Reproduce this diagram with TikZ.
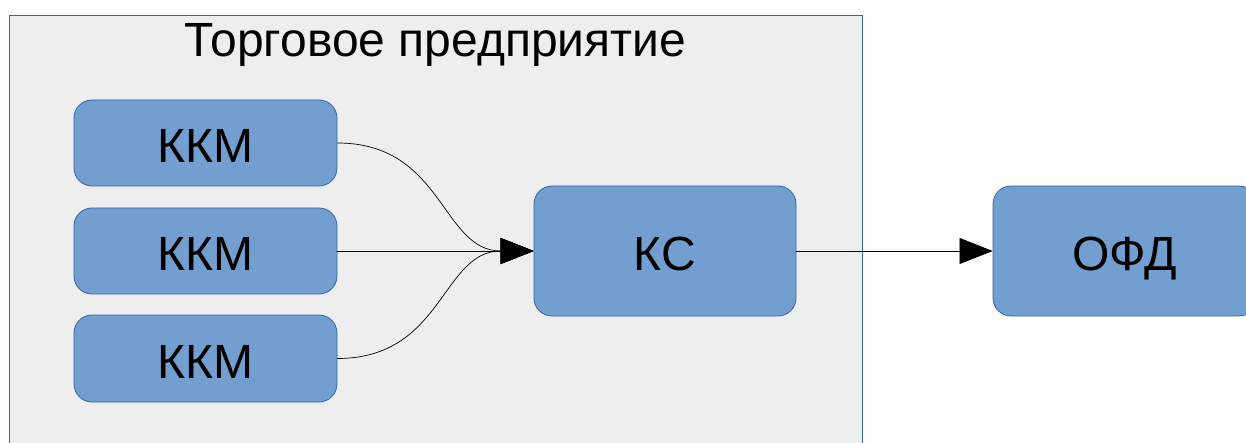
\documentclass[tikz,border=0pt]{standalone}
\usepackage{fontspec}
\setmainfont{Liberation Sans}
\usetikzlibrary{arrows.meta}
\definecolor{boxfill}{HTML}{729FCF}
\definecolor{boxline}{HTML}{3465A4}
\definecolor{areafill}{HTML}{EEEEEE}
\begin{document}
\begin{tikzpicture}[x=1pt,y=-1pt,
  area/.style={draw=boxline,fill=areafill,line width=0.8pt,inner sep=0pt},
  box/.style={draw=boxline,fill=boxfill,line width=0.8pt,rounded corners=18pt,inner sep=0pt,
    font=\fontsize{48}{54}\selectfont,text height=40pt,text depth=0pt},
  conn/.style={draw=black,line width=0.7pt,-{Triangle[length=33pt,width=26pt]}},
  title/.style={font=\fontsize{48}{54}\selectfont,inner sep=0pt}]
\useasboundingbox (0,0) rectangle (1246,443);
\node[area,minimum width=853pt,minimum height=445pt] (shop) at (435.5,237.5) {};
\node[title,anchor=base] (shoptitle) at (435.5,57) {Торговое предприятие};
\node[box,minimum width=263pt,minimum height=86pt] (k1) at (205.5,143) {ККМ};
\node[box,minimum width=263pt,minimum height=86pt] (k2) at (205.5,251) {ККМ};
\node[box,minimum width=263pt,minimum height=87pt] (k3) at (205.5,358.5) {ККМ};
\node[box,minimum width=262pt,minimum height=130pt] (ks) at (665,251) {КС};
\node[box,minimum width=264pt,minimum height=130pt] (ofd) at (1125,251) {ОФД};
\draw[conn] (k1.east) .. controls +(106,0) and +(-92,0) .. (ks.west);
\draw[conn] (k2.east) -- (ks.west);
\draw[conn] (k3.east) .. controls +(106,0) and +(-92,0) .. (ks.west);
\draw[conn] (ks.east) -- (ofd.west);
\end{tikzpicture}
\end{document}
